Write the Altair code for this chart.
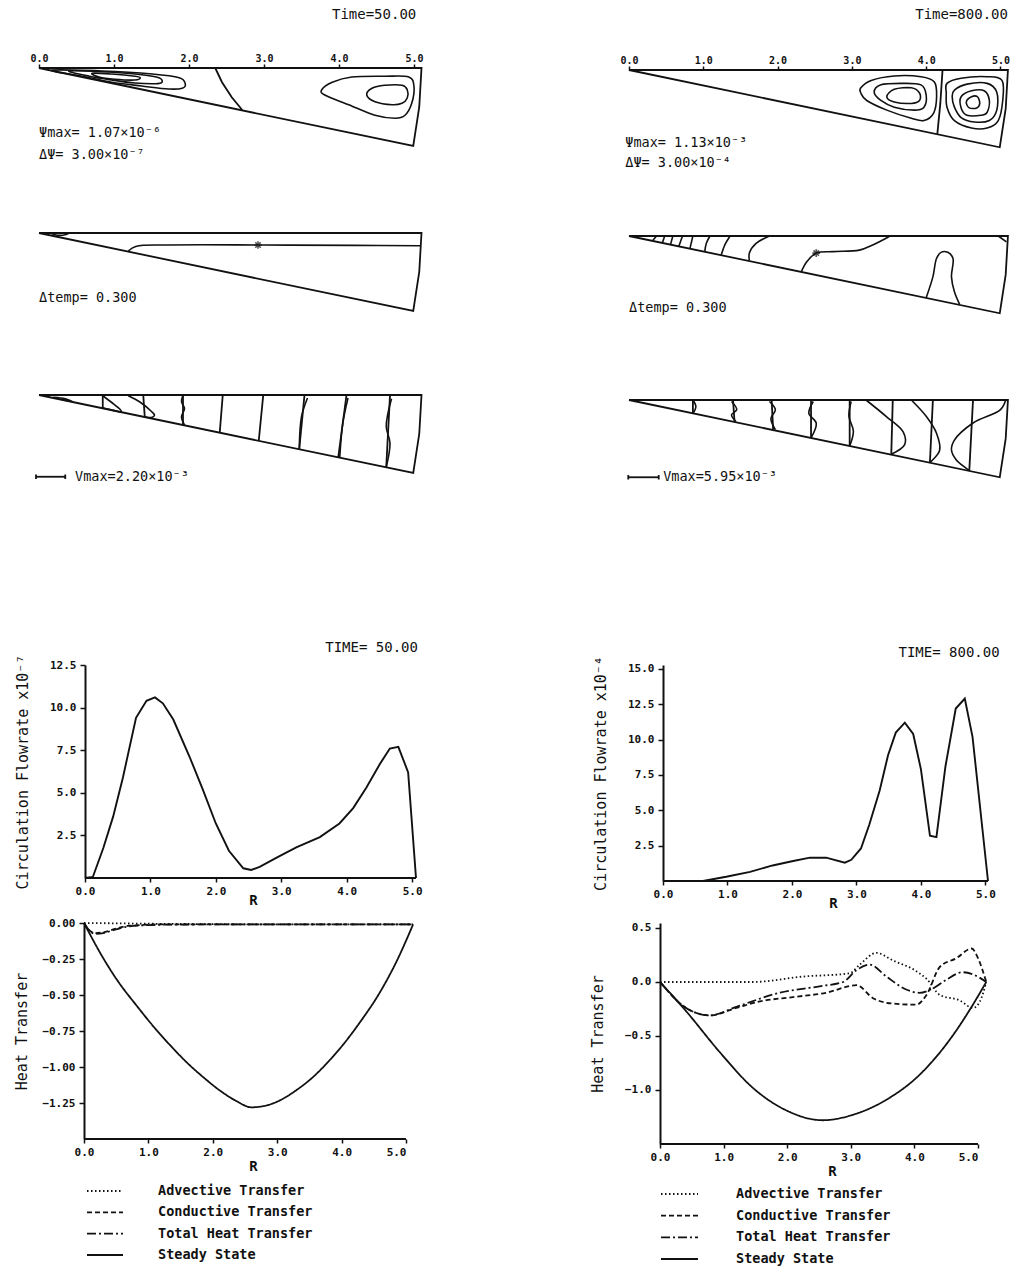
import altair as alt
import pandas as pd

FONT = "DejaVu Sans Mono"
INK = "#111111"

# ---------------------------------------------------------------- data
# wedge (sector) outline, R along the free surface, shared by all wedge drawings
WEDGE = [(0.0, 0.0), (5.1, 0.0), (5.07, -0.52), (4.99, -1.04), (0.0, 0.0)]
WEDGE_TICKS = [0, 1, 2, 3, 4, 5]
R_TICKS = [0, 1, 2, 3, 4, 5]

# stream function contours, Time = 50
PSI50_LOOPS = {
    "v1_in": [(0.71, -0.07), (0.97, -0.08), (1.28, -0.11), (1.35, -0.13), (1.28, -0.16), (1.01, -0.15), (0.8, -0.12)],
    "v1_mid": [(0.4, -0.04), (0.84, -0.05), (1.37, -0.09), (1.6, -0.13), (1.64, -0.19), (1.55, -0.21), (1.28, -0.2), (0.97, -0.16), (0.67, -0.11)],
    "v1_out": [(0.17, -0.03), (0.84, -0.04), (1.51, -0.08), (1.87, -0.13), (1.95, -0.21), (1.91, -0.27), (1.73, -0.28), (1.37, -0.24), (0.97, -0.19), (0.57, -0.11)],
    "v2_out": [(3.77, -0.29), (3.91, -0.19), (4.17, -0.12), (4.61, -0.11), (4.93, -0.12), (5.0, -0.25), (4.97, -0.47), (4.88, -0.63), (4.75, -0.67), (4.48, -0.63), (4.13, -0.49), (3.81, -0.36)],
    "v2_in": [(4.37, -0.36), (4.44, -0.27), (4.61, -0.23), (4.84, -0.23), (4.91, -0.29), (4.91, -0.4), (4.84, -0.47), (4.71, -0.49), (4.48, -0.45)],
}
PSI50_LINES = {"div": [(2.35, 0.0), (2.44, -0.19), (2.57, -0.39), (2.71, -0.56)]}

# stream function contours, Time = 800
PSI800_LOOPS = {
    "l_out": [(3.12, -0.24), (3.26, -0.14), (3.57, -0.08), (3.93, -0.09), (4.11, -0.16), (4.14, -0.36), (4.1, -0.58), (3.97, -0.68), (3.8, -0.65), (3.47, -0.54), (3.2, -0.41), (3.12, -0.31)],
    "l_mid": [(3.3, -0.3), (3.39, -0.2), (3.66, -0.18), (3.93, -0.2), (4.0, -0.34), (3.97, -0.5), (3.84, -0.54), (3.57, -0.5), (3.39, -0.41)],
    "l_in": [(3.47, -0.36), (3.57, -0.26), (3.8, -0.24), (3.91, -0.31), (3.91, -0.41), (3.8, -0.45), (3.57, -0.43)],
    "r1": [(4.28, -0.18), (4.47, -0.11), (4.82, -0.09), (5.02, -0.14), (5.03, -0.41), (4.97, -0.68), (4.82, -0.78), (4.61, -0.78), (4.38, -0.68), (4.28, -0.5), (4.27, -0.31)],
    "r2": [(4.38, -0.27), (4.55, -0.19), (4.82, -0.18), (4.95, -0.3), (4.95, -0.54), (4.85, -0.68), (4.65, -0.7), (4.47, -0.64), (4.38, -0.5), (4.35, -0.36)],
    "r3": [(4.47, -0.36), (4.61, -0.28), (4.78, -0.28), (4.85, -0.41), (4.82, -0.57), (4.74, -0.61), (4.55, -0.61), (4.47, -0.51)],
    "r4": [(4.54, -0.43), (4.61, -0.36), (4.69, -0.36), (4.72, -0.45), (4.68, -0.51), (4.58, -0.51)],
}
PSI800_LINES = {"div": [(4.22, 0.0), (4.19, -0.45), (4.15, -0.86)]}

# isotherms
TEMP50_CURVES = {
    "t0": [(0.15, 0.0), (0.24, -0.03), (0.36, -0.02), (0.4, 0.0)],
    "t1": [(1.19, -0.24), (1.29, -0.18), (1.75, -0.16), (3.0, -0.16), (4.2, -0.165), (5.08, -0.17)],
}
TEMP50_STAR = [(2.92, -0.16)]
TEMP800_CURVES = {
    "a": [(0.37, 0.0), (0.32, -0.06)],
    "b": [(0.48, 0.0), (0.45, -0.09)],
    "c": [(0.59, 0.0), (0.56, -0.11)],
    "d": [(0.72, 0.0), (0.67, -0.14)],
    "e": [(0.86, 0.0), (0.82, -0.17)],
    "f": [(1.09, 0.0), (1.04, -0.1), (1.02, -0.21)],
    "g": [(1.36, 0.0), (1.29, -0.12), (1.24, -0.26)],
    "h": [(1.89, 0.0), (1.71, -0.1), (1.62, -0.23), (1.62, -0.33)],
    "i": [(2.32, -0.48), (2.39, -0.35), (2.52, -0.23), (2.75, -0.21), (3.1, -0.19), (3.28, -0.12), (3.46, -0.03), (3.51, 0.0)],
    "j": [(4.97, 0.0), (5.08, -0.08)],
    "k": [(4.0, -0.83), (4.09, -0.55), (4.14, -0.3), (4.2, -0.22), (4.29, -0.22), (4.36, -0.3), (4.34, -0.55), (4.38, -0.75), (4.45, -0.92)],
}
TEMP800_STAR = [(2.52, -0.23)]

# velocity profiles: reference stations and profile curves
VEL50_STATIONS = {
    "r1": [(0.85, 0.0), (0.85, -0.18)], "r2": [(1.39, 0.0), (1.41, -0.29)],
    "r3": [(1.92, 0.0), (1.92, -0.4)], "r4": [(2.45, 0.0), (2.41, -0.5)],
    "r5": [(2.99, 0.0), (2.93, -0.61)], "r6": [(3.54, 0.0), (3.47, -0.72)],
    "r7": [(4.1, 0.0), (3.99, -0.83)], "r8": [(4.68, 0.0), (4.63, -0.96)],
}
VEL50_PROFILES = {
    "p0": [(0.19, -0.03), (0.35, -0.05), (0.45, -0.09), (0.3, -0.06)],
    "p1": [(0.85, -0.01), (0.97, -0.1), (1.08, -0.19), (1.1, -0.225), (0.99, -0.205), (0.85, -0.17)],
    "p2": [(1.19, -0.01), (1.34, -0.09), (1.5, -0.22), (1.54, -0.27), (1.5, -0.3), (1.41, -0.29)],
    "p3": [(1.92, 0.0), (1.9, -0.09), (1.94, -0.18), (1.9, -0.29), (1.94, -0.4)],
    "p6": [(3.58, -0.04), (3.5, -0.29), (3.47, -0.72)],
    "p7": [(4.12, -0.04), (4.05, -0.38), (4.01, -0.83)],
    "p8": [(4.7, -0.05), (4.63, -0.42), (4.68, -0.64), (4.63, -0.96)],
}
VEL800_STATIONS = {
    "s1": [(0.86, 0.0), (0.86, -0.18)], "s2": [(1.4, 0.0), (1.42, -0.29)],
    "s3": [(1.92, 0.0), (1.94, -0.4)], "s4": [(2.45, 0.0), (2.45, -0.51)],
    "s5": [(2.97, 0.0), (2.97, -0.62)], "s6": [(3.55, 0.0), (3.53, -0.73)],
    "s7": [(4.09, 0.0), (4.05, -0.84)], "s8": [(4.63, 0.0), (4.58, -0.95)],
}
VEL800_PROFILES = {
    "q1": [(0.86, 0.0), (0.9, -0.09), (0.86, -0.18)],
    "q2": [(1.38, -0.02), (1.45, -0.13), (1.38, -0.2), (1.44, -0.29)],
    "q3": [(1.89, -0.02), (1.97, -0.13), (1.91, -0.25), (1.97, -0.4)],
    "q4": [(2.48, -0.02), (2.42, -0.18), (2.52, -0.31), (2.45, -0.51)],
    "q5": [(2.99, -0.02), (2.96, -0.22), (3.02, -0.42), (2.97, -0.62)],
    "q6": [(3.19, 0.0), (3.46, -0.22), (3.69, -0.43), (3.71, -0.6), (3.53, -0.73)],
    "q7": [(3.8, 0.0), (4.0, -0.22), (4.14, -0.45), (4.18, -0.68), (4.05, -0.84)],
    "q8": [(5.07, 0.0), (5.0, -0.13), (4.63, -0.31), (4.38, -0.54), (4.34, -0.67), (4.4, -0.8), (4.58, -0.95)],
}
VBAR50 = {"bar": [(-0.04, -1.09), (0.35, -1.09)], "bl": [(-0.04, -1.06), (-0.04, -1.12)], "br": [(0.35, -1.06), (0.35, -1.12)]}
VBAR800 = {"bar": [(-0.01, -1.04), (0.4, -1.04)], "bl": [(-0.01, -1.01), (-0.01, -1.07)], "br": [(0.4, -1.01), (0.4, -1.07)]}

# circulation flowrate
FLOW50_R = [0, 0.12, 0.28, 0.43, 0.58, 0.78, 0.94, 1.07, 1.19, 1.35, 1.6, 1.8, 2.0, 2.2, 2.42, 2.54, 2.67, 2.93, 3.23, 3.59, 3.89, 4.1, 4.3, 4.51, 4.66, 4.79, 4.94, 5.06]
FLOW50_V = [0, 0.06, 1.76, 3.6, 5.9, 9.4, 10.4, 10.6, 10.25, 9.3, 7.1, 5.2, 3.2, 1.6, 0.57, 0.47, 0.65, 1.2, 1.8, 2.4, 3.2, 4.1, 5.3, 6.7, 7.6, 7.7, 6.2, 0]
FLOW800_R = [0, 0.62, 0.98, 1.35, 1.7, 2.0, 2.28, 2.53, 2.82, 2.92, 3.07, 3.2, 3.36, 3.49, 3.61, 3.75, 3.88, 4.0, 4.14, 4.24, 4.38, 4.54, 4.68, 4.8, 5.04]
FLOW800_V = [0, 0.0, 0.3, 0.65, 1.1, 1.4, 1.65, 1.65, 1.3, 1.5, 2.3, 4.0, 6.4, 8.9, 10.5, 11.2, 10.4, 7.9, 3.2, 3.1, 8.1, 12.2, 12.9, 10.2, 0]

# heat transfer
SERIES = ["Advective Transfer", "Conductive Transfer", "Total Heat Transfer", "Steady State"]
DASHES = [[1.5, 2.5], [5, 3], [9, 3, 2, 3], [1, 0]]

HEAT50 = {
    "Advective Transfer": ([0, 0.42, 1.0, 2.0, 3.0, 4.0, 5.11], [0, -0.002, -0.005, -0.008, -0.01, -0.01, -0.01]),
    "Conductive Transfer": ([0, 0.08, 0.17, 0.3, 0.42, 0.68, 1.2, 2.0, 3.0, 4.0, 5.11], [0, -0.05, -0.07, -0.065, -0.05, -0.02, -0.01, -0.01, -0.01, -0.01, -0.01]),
    "Total Heat Transfer": ([0, 0.08, 0.17, 0.3, 0.42, 0.68, 1.2, 2.0, 3.0, 4.0, 5.11], [0, -0.05, -0.075, -0.07, -0.055, -0.025, -0.012, -0.01, -0.01, -0.01, -0.01]),
    "Steady State": ([0, 0.28, 0.52, 0.81, 1.1, 1.34, 1.6, 1.85, 2.1, 2.36, 2.6, 2.85, 3.05, 3.3, 3.53, 3.8, 4.05, 4.3, 4.57, 4.85, 5.11],
                     [0, -0.23, -0.4, -0.57, -0.73, -0.85, -0.97, -1.07, -1.16, -1.235, -1.28, -1.265, -1.23, -1.16, -1.08, -0.96, -0.83, -0.68, -0.5, -0.27, -0.01]),
}
HEAT800 = {
    "Advective Transfer": ([0, 0.5, 1.46, 2.25, 2.98, 3.14, 3.4, 3.66, 4.03, 4.19, 4.4, 4.71, 4.92, 5.03, 5.13], [0, 0, 0.0, 0.05, 0.08, 0.16, 0.27, 0.2, 0.1, 0.03, -0.12, -0.17, -0.24, -0.18, 0]),
    "Conductive Transfer": ([0, 0.41, 0.78, 1.2, 1.57, 2.09, 2.61, 3.09, 3.35, 3.66, 4.03, 4.19, 4.4, 4.66, 4.9, 5.0, 5.13], [0, -0.24, -0.31, -0.24, -0.18, -0.14, -0.1, -0.03, -0.15, -0.2, -0.21, -0.12, 0.14, 0.22, 0.31, 0.22, 0]),
    "Total Heat Transfer": ([0, 0.41, 0.78, 1.2, 1.88, 2.51, 2.88, 3.09, 3.3, 3.56, 3.87, 4.08, 4.29, 4.5, 4.76, 4.92, 5.13], [0, -0.24, -0.31, -0.23, -0.1, -0.04, 0.0, 0.11, 0.16, 0.05, -0.07, -0.1, -0.06, 0.02, 0.09, 0.07, 0]),
    "Steady State": ([0, 0.41, 0.94, 1.46, 1.99, 2.56, 3.03, 3.56, 4.08, 4.61, 4.92, 5.13], [0, -0.27, -0.65, -0.98, -1.19, -1.28, -1.23, -1.09, -0.86, -0.49, -0.21, 0]),
}

STAR_PATH = "M-1,0L1,0M0,-1L0,1M-0.7,-0.7L0.7,0.7M-0.7,0.7L0.7,-0.7"


# ---------------------------------------------------------------- helpers
def curves_df(curves):
    rows = []
    for cid, pts in curves.items():
        for i, (x, y) in enumerate(pts):
            rows.append({"id": cid, "i": i, "X": x, "Y": y})
    return pd.DataFrame(rows)


def spacer(w, h):
    return alt.Chart(pd.DataFrame({"s": [0]})).mark_point(opacity=0).encode(
        x=alt.value(0), y=alt.value(0)).properties(width=w, height=h)


def wedge_panel(width, height, x0, top, s, linear=None, smooth=None, loops=None,
                texts=None, rtexts=None, stars=None, axis=False):
    xs = alt.Scale(domain=[-x0 / s, (width - x0) / s], nice=False, zero=False)
    ys = alt.Scale(domain=[-(height - top) / s, top / s], nice=False, zero=False)
    if axis:
        xax = alt.Axis(orient="top", offset=-top, values=WEDGE_TICKS, format=".1f", domain=False,
                       grid=False, ticks=True, tickSize=4, tickWidth=1.5, labelFontSize=10,
                       labelFontWeight="bold", labelPadding=1, title=None)
    else:
        xax = None
    X = alt.X("X:Q", scale=xs, axis=xax)
    Y = alt.Y("Y:Q", scale=ys, axis=None)
    lin = {"outline": WEDGE}
    lin.update(linear or {})
    layers = [alt.Chart(curves_df(lin)).mark_line(color=INK, strokeWidth=1.8).encode(
        x=X, y=Y, detail="id:N", order="i:Q")]
    if smooth:
        layers.append(alt.Chart(curves_df(smooth)).mark_line(
            color=INK, strokeWidth=1.6, interpolate="catmull-rom").encode(
            x=X, y=Y, detail="id:N", order="i:Q"))
    if loops:
        layers.append(alt.Chart(curves_df(loops)).mark_line(
            color=INK, strokeWidth=1.6, interpolate="cardinal-closed").encode(
            x=X, y=Y, detail="id:N", order="i:Q"))
    if stars:
        sdf = pd.DataFrame(stars, columns=["X", "Y"])
        layers.append(alt.Chart(sdf).mark_point(shape=STAR_PATH, size=60, strokeWidth=1.6,
                                                color=INK, filled=False).encode(x=X, y=Y))
    if texts:
        tdf = pd.DataFrame(texts, columns=["text", "X", "Y"])
        layers.append(alt.Chart(tdf).mark_text(align="left", baseline="middle", font=FONT,
                                               fontSize=13.5, color=INK).encode(x=X, y=Y, text="text:N"))
    if rtexts:
        tdf = pd.DataFrame(rtexts, columns=["text", "X", "Y"])
        layers.append(alt.Chart(tdf).mark_text(align="right", baseline="middle", font=FONT,
                                               fontSize=14, color=INK).encode(x=X, y=Y, text="text:N"))
    return alt.layer(*layers).properties(width=width, height=height)


def xy_axes(off, yvals, yfmt, ytitle, rtitle_x, rpad):
    return (
        alt.Axis(values=R_TICKS, format=".1f", title="R", domain=False,
                 labelFontSize=11, labelFontWeight="bold", tickSize=4,
                 titleFontSize=14, titleFontWeight="bold", titlePadding=rpad, titleX=rtitle_x,
                 labelPadding=3),
        alt.Axis(orient="left", offset=-off, values=yvals, format=yfmt, title=ytitle,
                 labelFontSize=11, labelFontWeight="bold", tickSize=5, labelPadding=4,
                 titleFontSize=15, titleFontWeight="normal", titleX=-63, titleBaseline="middle"),
    )


def flow_panel(R, V, off, pw, height, xmax, ydom, yvals, ytitle, time_label, time_at, rtitle_x):
    s = pw / xmax
    xs = alt.Scale(domain=[-off / s, xmax], nice=False, zero=False)
    ys = alt.Scale(domain=ydom, nice=False, zero=False)
    xax, yax = xy_axes(off, yvals, ".1f", ytitle, rtitle_x, -3)
    X = alt.X("R:Q", scale=xs, axis=xax)
    Y = alt.Y("V:Q", scale=ys, axis=yax)
    df = pd.DataFrame({"R": R, "V": V})
    line = alt.Chart(df).mark_line(color=INK, strokeWidth=1.9).encode(x=X, y=Y)
    base = alt.Chart(pd.DataFrame({"R": [0.0], "R2": [xmax], "V": [ydom[0]]})).mark_rule(
        color=INK, strokeWidth=2).encode(x=X, x2="R2:Q", y=Y)
    tdf = pd.DataFrame({"R": [time_at[0]], "V": [time_at[1]], "text": [time_label]})
    txt = alt.Chart(tdf).mark_text(align="right", baseline="middle", font=FONT, fontSize=14,
                                   color=INK).encode(x=X, y=Y, text="text:N")
    return alt.layer(base, line, txt).properties(width=off + pw, height=height)


def heat_panel(series, off, pw, height, xmax, ydom, ybase, yvals, yfmt, rtitle_x):
    rows = []
    for name, (rr, vv) in series.items():
        for k, (r, v) in enumerate(zip(rr, vv)):
            rows.append({"series": name, "k": k, "R": r, "Q": v})
    df = pd.DataFrame(rows)
    s = pw / xmax
    xs = alt.Scale(domain=[-off / s, xmax], nice=False, zero=False)
    ys = alt.Scale(domain=ydom, nice=False, zero=False)
    xax, yax = xy_axes(off, yvals, yfmt, "Heat Transfer", rtitle_x, 2)
    X = alt.X("R:Q", scale=xs, axis=xax)
    Y = alt.Y("Q:Q", scale=ys, axis=yax)
    lines = alt.Chart(df).mark_line(color=INK, strokeWidth=1.8, interpolate="monotone").encode(
        x=X, y=Y,
        strokeDash=alt.StrokeDash("series:N", scale=alt.Scale(domain=SERIES, range=DASHES), legend=None),
        detail="series:N",
        order="k:Q",
    )
    base = alt.Chart(pd.DataFrame({"R": [0.0], "R2": [xmax], "Q": [ybase]})).mark_rule(
        color=INK, strokeWidth=2).encode(x=X, x2="R2:Q", y=Y)
    return alt.layer(base, lines).properties(width=off + pw, height=height)


def legend_panel(width, height, yrange, xline, xtext):
    df = pd.DataFrame({"series": SERIES})
    Y = alt.Y("series:N", sort=SERIES, scale=alt.Scale(type="point", range=yrange, padding=0), axis=None)
    rule = alt.Chart(df).mark_rule(color=INK, strokeWidth=1.8).encode(
        x=alt.value(xline[0]), x2=alt.value(xline[1]), y=Y,
        strokeDash=alt.StrokeDash("series:N", scale=alt.Scale(domain=SERIES, range=DASHES), legend=None))
    txt = alt.Chart(df).mark_text(align="left", baseline="middle", font=FONT, fontSize=13.5,
                                  fontWeight="bold", color=INK).encode(x=alt.value(xtext), y=Y, text="series:N")
    return alt.layer(rule, txt).properties(width=width, height=height)


# ---------------------------------------------------------------- left column (Time = 50)
L_A = wedge_panel(419, 190, 36, 68, 75, linear=PSI50_LINES, loops=PSI50_LOOPS,
                  texts=[("Ψmax=  1.07×10⁻⁶", 0.0, -0.87), ("ΔΨ=    3.00×10⁻⁷", 0.0, -1.16)],
                  rtexts=[("Time=50.00", 5.03, 0.71)], axis=True)
L_B = wedge_panel(419, 160, 36, 43, 75, smooth=TEMP50_CURVES, stars=TEMP50_STAR,
                  texts=[("Δtemp= 0.300", 0.0, -0.87)])
L_C = wedge_panel(419, 315, 36, 45, 75, linear={**VEL50_STATIONS, **VBAR50}, smooth=VEL50_PROFILES,
                  texts=[("Vmax=2.20×10⁻³", 0.48, -1.09)])
L_D = flow_panel(FLOW50_R, FLOW50_V, 82, 331, 213, 5.06, [0, 12.5], [2.5, 5, 7.5, 10, 12.5],
                 "Circulation Flowrate x10⁻⁷", "TIME= 50.00", (5.09, 13.5), 250)
L_E = heat_panel(HEAT50, 81, 322, 216, 5.0, [-1.5, 0], -1.5,
                 [0, -0.25, -0.5, -0.75, -1.0, -1.25], ".2f", 250)
L_F = legend_panel(400, 127, [47, 111], (84, 120), 155)

# ---------------------------------------------------------------- right column (Time = 800)
R_A = wedge_panel(415, 190, 36, 70, 74.3, linear=PSI800_LINES, loops=PSI800_LOOPS,
                  texts=[("Ψmax=  1.13×10⁻³", -0.05, -0.98), ("ΔΨ=    3.00×10⁻⁴", -0.05, -1.25)],
                  rtexts=[("Time=800.00", 5.1, 0.74)], axis=True)
R_B = wedge_panel(415, 160, 36, 46, 74.3, smooth=TEMP800_CURVES, stars=TEMP800_STAR,
                  texts=[("Δtemp= 0.300", 0.0, -0.97)])
R_C = wedge_panel(415, 315, 36, 50, 74.3, linear={**VEL800_STATIONS, **VBAR800}, smooth=VEL800_PROFILES,
                  texts=[("Vmax=5.95×10⁻³", 0.46, -1.04)])
R_D = flow_panel(FLOW800_R, FLOW800_V, 70, 325, 216, 5.04, [0, 15.28], [2.5, 5, 7.5, 10, 12.5, 15],
                 "Circulation Flowrate x10⁻⁴", "TIME= 800.00", (5.22, 16.1), 240)
R_E = heat_panel(HEAT800, 67, 318, 221, 5.0, [-1.5, 0.546], -1.5,
                 [0.5, 0, -0.5, -1.0], ".1f", 239)
R_F = legend_panel(415, 127, [50, 115], (68, 105), 143)

cells = [L_A, R_A, L_B, R_B, L_C, R_C, L_D, R_D, spacer(10, 42), spacer(10, 42), L_E, R_E, L_F, R_F]

chart = alt.concat(*cells, columns=2, spacing={"row": 0, "column": 171}, bounds="flush",
                   align="each").properties(
    padding=0, background="white"
).configure_view(stroke=None).configure_axis(
    domainColor=INK, domainWidth=2, tickColor=INK, tickWidth=1.5, labelColor=INK, titleColor=INK,
    labelFont=FONT, titleFont=FONT, grid=False
)

chart.save("out.html", embed_options={"renderer": "svg", "actions": False})
